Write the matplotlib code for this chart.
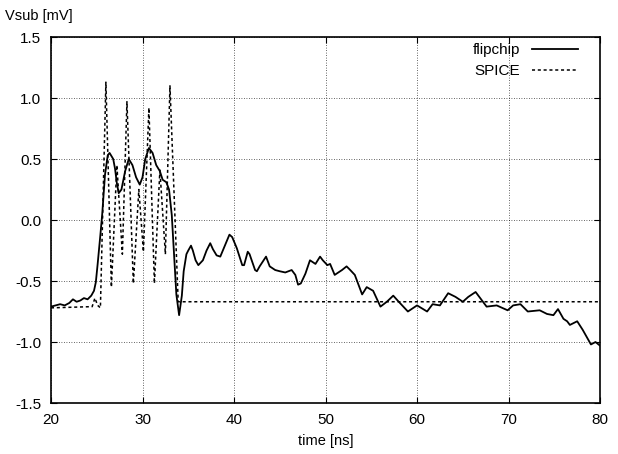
import numpy as np
import matplotlib.pyplot as plt

plt.rcParams['font.family'] = ['Liberation Sans', 'DejaVu Sans']
plt.rcParams['axes.unicode_minus'] = False

# flipchip measurement (time ns, mV)
flip_t = [20.0, 20.5, 21.0, 21.5, 22.0, 22.4, 22.8, 23.2, 23.6, 24.0, 24.4, 24.7,
          24.9, 25.1, 25.4, 25.6, 25.9, 26.2, 26.4, 26.8, 27.0, 27.2, 27.4, 27.7,
          28.1, 28.5, 28.9, 29.3, 29.7, 30.0, 30.3, 30.7, 31.1, 31.5, 31.9, 32.2,
          32.6, 32.9, 33.2, 33.5, 33.7, 34.0, 34.3, 34.5, 34.8, 35.0, 35.3, 35.5,
          35.8, 36.1, 36.6, 37.0, 37.4, 37.7, 38.1, 38.5, 39.0, 39.5, 39.8, 40.3,
          40.9, 41.1, 41.5, 41.7, 42.3, 42.5, 42.8, 43.5, 43.9, 44.5, 45.0, 45.6,
          46.3, 46.7, 47.0, 47.3, 47.8, 48.3, 48.9, 49.4, 49.7, 50.2, 50.5, 51.0,
          51.8, 52.3, 52.7, 53.2, 54.0, 54.5, 55.2, 56.0, 56.7, 57.4, 58.0, 59.0,
          60.0, 61.1, 61.7, 62.5, 63.4, 64.2, 65.0, 65.6, 66.4, 67.6, 68.7, 69.9,
          70.5, 71.3, 72.1, 73.4, 74.2, 74.9, 75.4, 76.0, 76.4, 76.7, 77.5, 78.1,
          79.0, 79.5, 80.0]
flip_v = [-0.71, -0.70, -0.69, -0.70, -0.68, -0.65, -0.67, -0.66, -0.64, -0.65, -0.62, -0.58,
          -0.51, -0.36, -0.12, 0.05, 0.37, 0.53, 0.55, 0.50, 0.42, 0.30, 0.22, 0.25,
          0.40, 0.50, 0.45, 0.35, 0.29, 0.35, 0.50, 0.59, 0.55, 0.45, 0.40, 0.33,
          0.31, 0.25, 0.04, -0.35, -0.61, -0.78, -0.62, -0.42, -0.28, -0.25, -0.21, -0.25,
          -0.33, -0.37, -0.33, -0.25, -0.19, -0.24, -0.29, -0.30, -0.21, -0.12, -0.14, -0.23,
          -0.37, -0.37, -0.26, -0.28, -0.41, -0.42, -0.38, -0.30, -0.38, -0.41, -0.42, -0.43,
          -0.41, -0.45, -0.53, -0.52, -0.44, -0.33, -0.36, -0.30, -0.33, -0.37, -0.36, -0.45,
          -0.41, -0.38, -0.41, -0.45, -0.61, -0.55, -0.58, -0.71, -0.67, -0.62, -0.67, -0.75,
          -0.70, -0.75, -0.69, -0.70, -0.60, -0.63, -0.67, -0.63, -0.59, -0.71, -0.70, -0.74,
          -0.70, -0.69, -0.75, -0.74, -0.77, -0.78, -0.73, -0.81, -0.83, -0.86, -0.83, -0.90,
          -1.02, -1.00, -1.03]

# SPICE simulation
spice_t = [20.0, 24.5, 24.8, 25.1, 25.4, 26.0, 26.6, 27.2, 27.8, 28.3, 29.0, 29.6,
           30.1, 30.7, 31.3, 31.9, 32.5, 33.0, 33.9, 80.0]
spice_v = [-0.72, -0.71, -0.64, -0.70, -0.72, 1.13, -0.55, 0.45, -0.28, 0.97, -0.52, 0.25,
           -0.26, 0.92, -0.52, 0.41, -0.28, 1.10, -0.67, -0.67]

fig = plt.figure(figsize=(6.18, 4.54), dpi=100)
ax = fig.add_axes([0.0825, 0.1123, 0.8885, 0.8062])

ax.plot(flip_t, flip_v, color='black', lw=1.3, label='flipchip')
ax.plot(spice_t, spice_v, color='black', lw=1.1, ls=(0, (2, 1.8)), label='SPICE')

ax.set_xlim(20, 80)
ax.set_ylim(-1.5, 1.5)
ax.set_xticks(np.arange(20, 81, 10))
ax.set_yticks(np.arange(-1.5, 1.51, 0.5))
ax.set_yticklabels(['%.1f' % v for v in np.arange(-1.5, 1.51, 0.5)])
ax.tick_params(direction='in', top=True, right=True, length=4, labelsize=11, pad=7)
ax.grid(True, color='black', ls=(0, (1, 2)), lw=0.6, alpha=0.8)
for s in ax.spines.values():
    s.set_linewidth(1.2)

ax.set_xlabel('time [ns]', fontsize=10.5, labelpad=5)
fig.text(0.008, 0.965, 'Vsub [mV]', fontsize=10.5, ha='left', va='center')

ax.legend(loc='upper right', bbox_to_anchor=(0.982, 1.016), frameon=False,
          markerfirst=False, fontsize=11, handlelength=3.0, borderaxespad=0.4,
          labelspacing=0.45)

fig.savefig('out.png', dpi=100)
